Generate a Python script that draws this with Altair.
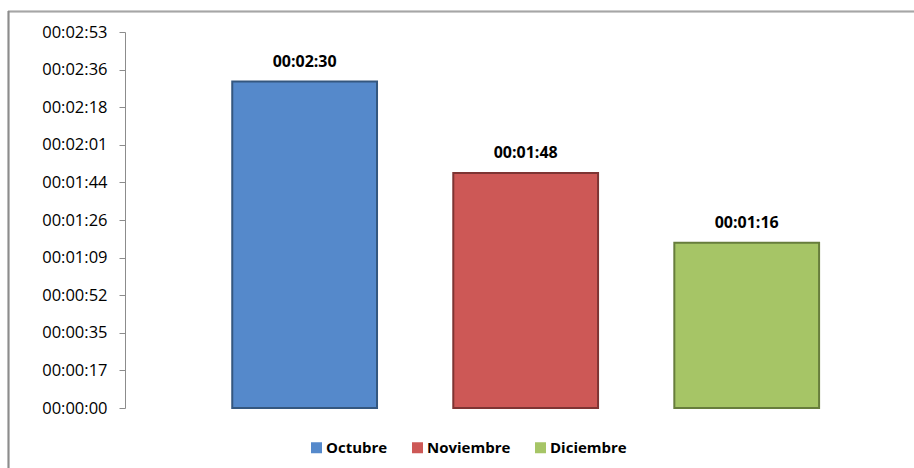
import json
import altair as alt
import pandas as pd

months = ["Octubre", "Noviembre", "Diciembre"]
seconds = [150, 108, 76]
bar_labels = ["00:02:30", "00:01:48", "00:01:16"]
fill_colors = ["#5589CB", "#CD5856", "#A6C566"]
stroke_colors = ["#34577F", "#7E3433", "#677D3C"]

tick_values = [0, 17.28, 34.56, 51.84, 69.12, 86.4, 103.68, 120.96, 138.24, 155.52, 172.8]
tick_labels = ["00:00:00", "00:00:17", "00:00:35", "00:00:52", "00:01:09", "00:01:26",
               "00:01:44", "00:02:01", "00:02:18", "00:02:36", "00:02:53"]

df = pd.DataFrame({"mes": months, "segundos": seconds, "etiqueta": bar_labels})

FONT = "Open Sans"
label_expr = f"{json.dumps(tick_labels)}[indexof({json.dumps(tick_values)}, datum.value)]"

x = alt.X("mes:N", sort=months, axis=None,
          scale=alt.Scale(paddingInner=0.345, paddingOuter=0.403, align=0.602))
y = alt.Y("segundos:Q",
          scale=alt.Scale(domain=[0, 172.8], nice=False, zero=True),
          axis=alt.Axis(title=None, values=tick_values, labelExpr=label_expr, grid=False,
                        domainColor="#8C8C8C", tickColor="#8C8C8C", tickSize=6,
                        labelPadding=12, labelFont=FONT, labelFontSize=16.5,
                        labelColor="#000000"))

bars = alt.Chart(df).mark_bar(strokeWidth=2).encode(
    x=x,
    y=y,
    color=alt.Color("mes:N", scale=alt.Scale(domain=months, range=fill_colors),
                    legend=alt.Legend(title=None, orient="none", direction="horizontal",
                                      legendX=184, legendY=408, padding=0,
                                      symbolType="square", symbolSize=121,
                                      symbolStrokeWidth=0, labelOffset=2,
                                      columnPadding=22, labelFont=FONT,
                                      labelFontSize=15, labelFontWeight="bold",
                                      labelColor="#000000")),
    stroke=alt.Stroke("mes:N", scale=alt.Scale(domain=months, range=stroke_colors),
                      legend=None),
)

text = alt.Chart(df).mark_text(font=FONT, fontSize=16, fontWeight="bold",
                               baseline="middle", dy=-20, color="#000000").encode(
    x=x, y=y, text="etiqueta:N")

frame_top = alt.Chart(df).mark_rule(color="#A6A6A6", strokeWidth=1.5).encode(
    x=alt.value(-117), x2=alt.value(800), y=alt.value(-20.5))
frame_left = alt.Chart(df).mark_rule(color="#8C8C8C", strokeWidth=1.5).encode(
    x=alt.value(-116.5), y=alt.value(-21), y2=alt.value(440))

chart = alt.layer(frame_top, frame_left, bars, text).properties(
    width=765, height=376,
    autosize=alt.AutoSizeParams(type="none"),
    padding={"left": 125, "top": 32, "right": 24, "bottom": 60},
).configure_view(stroke=None)

chart.save("out.html", embed_options={"renderer": "svg", "actions": False})
